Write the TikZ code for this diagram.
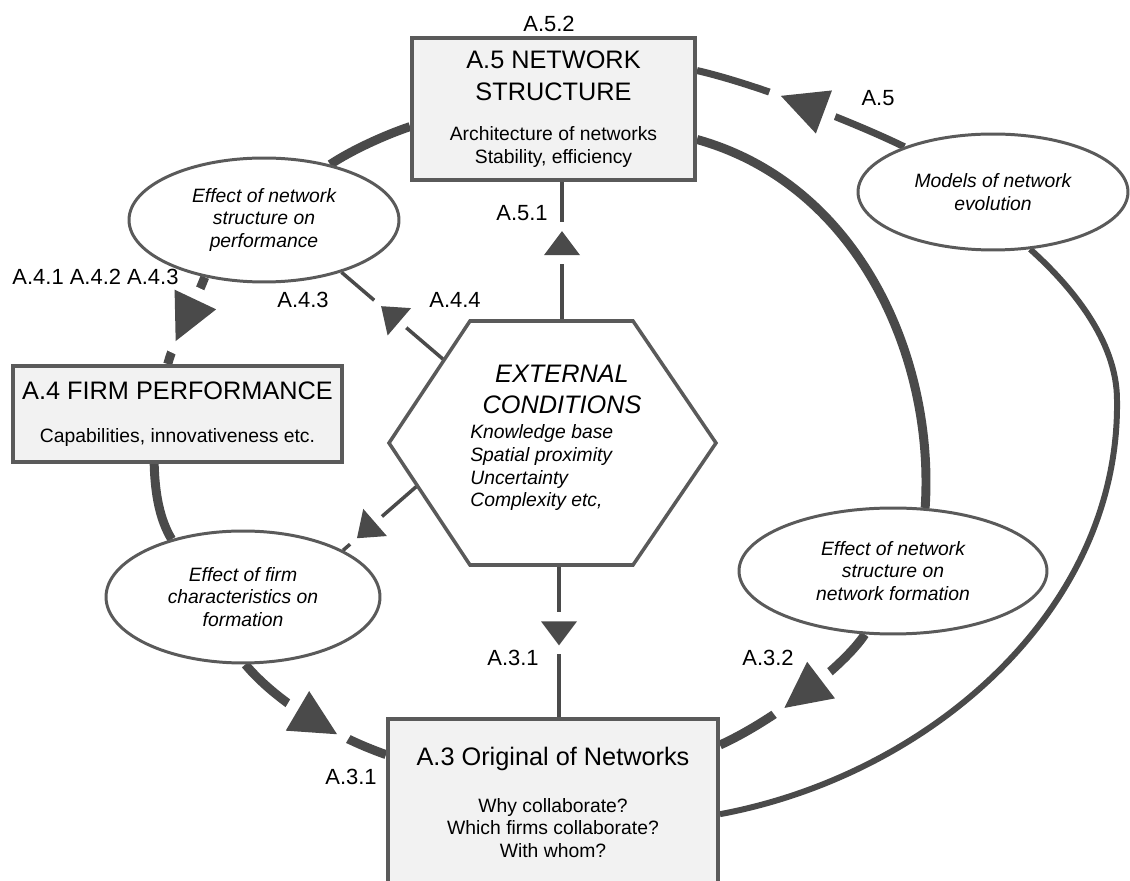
\documentclass[tikz,border=0pt]{standalone}
\usepackage{fontspec}
\setmainfont{Liberation Sans}
\usetikzlibrary{shapes.geometric,decorations.markings}
\definecolor{arcgray}{HTML}{4A4A4A}
\definecolor{edgegray}{HTML}{5A5A5A}
\definecolor{boxfill}{HTML}{F2F2F2}
\pgfdeclarelayer{bg}
\pgfsetlayers{bg,main}
\newcommand{\boxttl}{\fontsize{14.4}{17}\selectfont}
\begin{document}
\begin{tikzpicture}[x=0.02cm,y=-0.02cm,
  every node/.style={font=\fontsize{12.5}{15}\selectfont},
  netbox/.style={draw=edgegray,line width=2.3pt,fill=boxfill,align=center,inner sep=0pt,font=\fontsize{11}{12.8}\selectfont},
  topic/.style={ellipse,draw=edgegray,line width=1.7pt,fill=white,align=center,inner sep=0pt,font=\fontsize{11}{12.8}\selectfont\itshape},
  bigarc/.style={draw=arcgray,line width=5.1pt},
  midarc/.style={draw=arcgray,line width=4pt},
  outerarc/.style={draw=arcgray,line width=3.4pt},
  thinarc/.style={draw=arcgray,line width=2pt},
  bighead/.style={postaction={decorate,decoration={markings,mark=at position #1 with {
      \fill[white] (-35,-8) rectangle (35,8);
      \fill[arcgray] (23,0) -- (-23,23) -- (-23,-23) -- cycle;}}}},
  smallhead/.style={postaction={decorate,decoration={markings,mark=at position #1 with {
      \fill[white] (-21,-5) rectangle (21,5);
      \fill[arcgray] (12,0) -- (-12,18) -- (-12,-18) -- cycle;}}}}]
\useasboundingbox (0,0) rectangle (1130,881);
% the three boxes
\node[netbox,minimum width=5.66cm,minimum height=2.84cm] (a5) at (553.5,109)
  {{\boxttl A.5 NETWORK}\\[5.3pt]{\boxttl STRUCTURE}\\[10.4pt]Architecture of networks\\Stability, efficiency};
\node[netbox,minimum width=6.58cm,minimum height=1.92cm] (a4) at (177.5,414)
  {{\boxttl A.4 FIRM PERFORMANCE}\\[11.6pt]Capabilities, innovativeness etc.};
\node[netbox,minimum width=6.6cm,minimum height=3.34cm] (a3) at (553,802.5)
  {{\boxttl A.3 Original of Networks}\\[13.8pt]Why collaborate?\\Which firms collaborate?\\With whom?};
% ellipses
\node[topic,minimum width=5.4cm,minimum height=2.48cm] (e1) at (264,220) {Effect of network\\structure on\\performance};
\node[topic,minimum width=5.4cm,minimum height=2.32cm] (e2) at (993,192) {Models of network\\evolution};
\node[topic,minimum width=5.48cm,minimum height=2.64cm] (e3) at (243,597) {Effect of firm\\characteristics on\\formation};
\node[topic,minimum width=6.16cm,minimum height=2.52cm] (e4) at (893,571) {Effect of network\\structure on\\network formation};
% external conditions hexagon
\draw[edgegray,line width=2pt,fill=white] (470,321) -- (633,321) -- (716,443) -- (633,565) -- (470,565) -- (389,443) -- cycle;
\node[font=\fontsize{14.4}{17.6}\selectfont\itshape,align=center,inner sep=0pt] (ext) at (562,389) {EXTERNAL\\CONDITIONS};
\node[font=\fontsize{11}{13}\selectfont\itshape,align=left,inner sep=0pt,anchor=north west] (extlist) at (470,424)
  {Knowledge base\\Spatial proximity\\Uncertainty\\Complexity etc,};
\coordinate (hxn) at (562,321);
\coordinate (hxs) at (559,565);
\coordinate (hxnw) at (444,360);
\coordinate (hxsw) at (417,486);
% labels
\node (l52) at (549,24) {A.5.2};
\node (l5) at (878,98) {A.5};
\node (l51) at (522,213) {A.5.1};
\node (l44) at (455,300) {A.4.4};
\node (l43) at (303,300) {A.4.3};
\node (l4x) at (95.5,277) {A.4.1 A.4.2 A.4.3};
\node (l31c) at (513,658) {A.3.1};
\node (l32) at (768,658) {A.3.2};
\node (l31) at (351,777) {A.3.1};
\begin{pgfonlayer}{bg}
% left loop
\draw[bigarc] (a5.187) .. controls (385,135) and (352,150) .. (e1.40);
\draw[bigarc,bighead=0.5] (e1.-136) .. controls (192,310) and (174,340) .. (a4.101);
\draw[bigarc] (a4.-115) .. controls (155,495) and (160,520) .. (e3.141);
\draw[bigarc,bighead=0.55] (e3.-88) .. controls (275,700) and (330,735) .. (a3.164);
% right loop
\draw[bigarc] (a5.-12) .. controls (860,185) and (935,360) .. (e4.63);
\draw[bigarc,bighead=0.47] (e4.-114) .. controls (845,665) and (775,720) .. (a3.19);
\draw[outerarc] (a3.-4) .. controls (930,775) and (1120,610) .. (1117,400) .. controls (1117,340) and (1070,285) .. (e2.-57);
\draw[midarc,bighead=0.5] (e2.153) .. controls (860,125) and (760,85) .. (a5.15);
% out of the hexagon
\draw[thinarc,smallhead=0.56] (hxn) -- (a5.south -| hxn);
\draw[thinarc,smallhead=0.45] (hxs) -- (a3.north -| hxs);
\draw[thinarc,smallhead=0.525] (hxnw) -- (e1.-34);
\draw[thinarc,smallhead=0.69] (hxsw) -- (e3.25);
\end{pgfonlayer}
\end{tikzpicture}
\end{document}
